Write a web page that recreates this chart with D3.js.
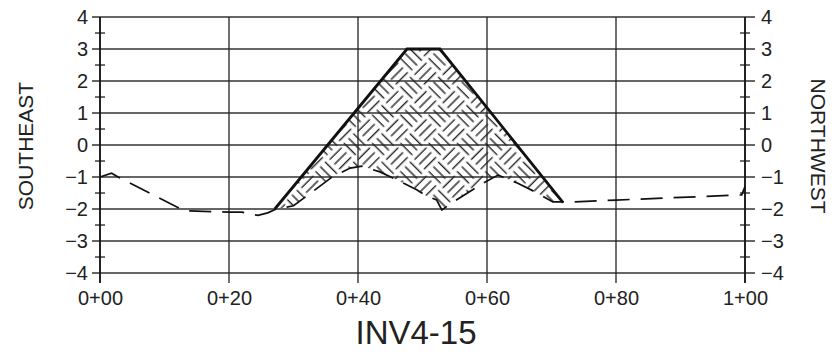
<!DOCTYPE html>
<html>
<head>
<meta charset="utf-8">
<script src="https://cdn.jsdelivr.net/npm/d3@7"></script>
<style>
  body { margin: 0; background: #fff; }
  text { font-family: "Liberation Sans", Arial, sans-serif; fill: #222; }
</style>
</head>
<body>
<div id="chart"></div>
<script>
// station (ft along section) vs elevation
var xTicks = [0, 20, 40, 60, 80, 100];
var xTickLabels = ["0+00", "0+20", "0+40", "0+60", "0+80", "1+00"];
var yTicks = [-4, -3, -2, -1, 0, 1, 2, 3, 4];

// top of embankment (solid line)
var topStation = [27.1, 47.6, 52.7, 71.8];
var topElev = [-2.0, 3.0, 3.0, -1.8];

// existing ground (dashed line)
var groundStation = [0, 1.8, 2.8, 13, 20, 22, 24.5, 26, 27.3, 30, 36, 38.8, 40.6, 43.4, 45.4, 49.1, 50.7, 52.2, 53, 54.6, 59.4, 61.7, 64.7, 67.8, 70.2, 73.2, 80, 99.5, 100];
var groundElev = [-1.0, -0.88, -1.0, -2.05, -2.1, -2.1, -2.2, -2.12, -2.0, -1.9, -1.0, -0.72, -0.66, -0.84, -1.03, -1.4, -1.6, -1.72, -2.03, -1.8, -1.19, -0.94, -1.19, -1.5, -1.78, -1.78, -1.72, -1.56, -1.3];

var title = "INV4-15";
var leftLabel = "SOUTHEAST";
var rightLabel = "NORTHWEST";

var W = 834, H = 354;
var margin = {top: 17, right: 89, bottom: 81, left: 100};
var width = W - margin.left - margin.right,
    height = H - margin.top - margin.bottom;

var x = d3.scaleLinear().domain([0, 100]).range([0, width]);
var y = d3.scaleLinear().domain([-4, 4]).range([height, 0]);

var svg = d3.select("#chart").append("svg")
    .attr("width", W).attr("height", H);

// basket-weave hatch
var s = 20;
var pat = svg.append("defs").append("pattern")
    .attr("id", "weave")
    .attr("patternUnits", "userSpaceOnUse")
    .attr("width", 2 * s).attr("height", 2 * s)
    .attr("patternTransform", "rotate(45)");
function block(ox, oy, horiz) {
  for (var k = 0; k < 3; k++) {
    var p = (k + 0.5) * s / 3;
    if (horiz) {
      pat.append("line").attr("x1", ox + 1.5).attr("x2", ox + s - 1.5)
        .attr("y1", oy + p).attr("y2", oy + p);
    } else {
      pat.append("line").attr("y1", oy + 1.5).attr("y2", oy + s - 1.5)
        .attr("x1", ox + p).attr("x2", ox + p);
    }
  }
}
block(0, 0, true); block(s, 0, false); block(0, s, false); block(s, s, true);
pat.selectAll("line").attr("stroke", "#222").attr("stroke-width", 1.4);

var g = svg.append("g")
    .attr("transform", "translate(" + margin.left + "," + margin.top + ")");

// grid
g.append("g").selectAll("line").data(yTicks).enter().append("line")
    .attr("x1", -8).attr("x2", width + 10)
    .attr("y1", function(d) { return y(d); }).attr("y2", function(d) { return y(d); })
    .attr("stroke", "#333").attr("stroke-width", 1.3);
g.append("g").selectAll("line").data(xTicks).enter().append("line")
    .attr("x1", function(d) { return x(d); }).attr("x2", function(d) { return x(d); })
    .attr("y1", 0).attr("y2", height + 10)
    .attr("stroke", "#222").attr("stroke-width", 1.3);

// minor ticks on both vertical axes
var minor = d3.range(-3.5, 4, 1);
[0, width].forEach(function(ax) {
  g.append("g").selectAll("line").data(minor).enter().append("line")
      .attr("x1", ax - 5).attr("x2", ax + 5)
      .attr("y1", function(d) { return y(d); }).attr("y2", function(d) { return y(d); })
      .attr("stroke", "#222").attr("stroke-width", 1.3);
  g.append("line").attr("x1", ax).attr("x2", ax).attr("y1", 0).attr("y2", height + 10)
      .attr("stroke", "#111").attr("stroke-width", 1.6);
});

// tick labels via d3 axes (domain hidden, grid drawn above)
var yl = g.append("g").call(d3.axisLeft(y).tickValues(yTicks).tickSize(0).tickPadding(12)
    .tickFormat(d3.format("d")));
var yr = g.append("g").attr("transform", "translate(" + width + ",0)")
    .call(d3.axisRight(y).tickValues(yTicks).tickSize(0).tickPadding(16).tickFormat(d3.format("d")));
var xb = g.append("g").attr("transform", "translate(0," + height + ")")
    .call(d3.axisBottom(x).tickValues(xTicks).tickSize(0).tickPadding(18)
      .tickFormat(function(d, i) { return xTickLabels[i]; }));
[yl, yr, xb].forEach(function(a) {
  a.select(".domain").remove();
  a.selectAll("text").style("font-size", "20px").attr("fill", "#222")
    .style("font-family", '"Liberation Sans", Arial, sans-serif');
});

// embankment fill
var fillPts = topStation.map(function(d, i) { return [d, topElev[i]]; });
var gr = groundStation.map(function(d, i) { return [d, groundElev[i]]; })
    .filter(function(d) { return d[0] >= 27.1 && d[0] <= 71.8; });
fillPts = fillPts.concat(gr.reverse());
var area = d3.line().x(function(d) { return x(d[0]); }).y(function(d) { return y(d[1]); });
g.append("path").attr("d", area(fillPts) + "Z")
    .attr("fill", "url(#weave)").attr("stroke", "none");

// ground dashed line
var line = d3.line().x(function(d) { return x(d); }).y(function(d, i) { return y(groundElev[i]); });
g.append("path").datum(groundStation).attr("d", line)
    .attr("fill", "none").attr("stroke", "#111").attr("stroke-width", 1.7)
    .attr("stroke-dasharray", "22,11");

// top line
var topLine = d3.line().x(function(d) { return x(d); }).y(function(d, i) { return y(topElev[i]); });
g.append("path").datum(topStation).attr("d", topLine)
    .attr("fill", "none").attr("stroke", "#111").attr("stroke-width", 2.8);

// titles
svg.append("text").attr("x", 416).attr("y", 344)
    .attr("text-anchor", "middle").style("font-size", "33px").text(title);
svg.append("text").attr("transform", "translate(33,146) rotate(-90)")
    .attr("text-anchor", "middle").style("font-size", "21px").text(leftLabel);
svg.append("text").attr("transform", "translate(811,146) rotate(90)")
    .attr("text-anchor", "middle").style("font-size", "21px").text(rightLabel);
</script>
</body>
</html>
